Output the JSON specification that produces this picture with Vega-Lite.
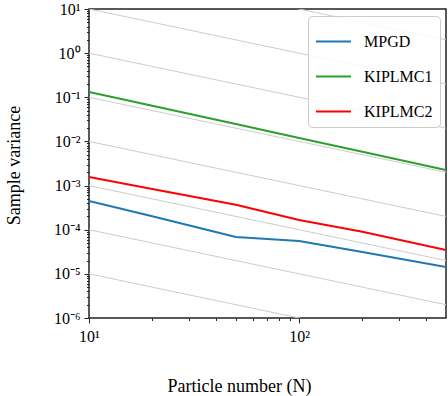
{
  "$schema": "https://vega.github.io/schema/vega-lite/v6.json",
  "width": 357,
  "height": 309,
  "autosize": {"type": "none"},
  "padding": {"left": 89, "top": 9, "right": 2, "bottom": 78},
  "background": "white",
  "config": {
    "font": "Liberation Serif",
    "view": {"stroke": "#222222", "strokeWidth": 1.5},
    "legend": {"labelFont": "Liberation Serif", "labelFontSize": 16, "labelColor": "#000000"},
    "axis": {
      "grid": false,
      "domain": false,
      "labelFont": "Liberation Serif",
      "labelFontSize": 16,
      "labelColor": "#000000",
      "tickColor": "#222222",
      "tickWidth": 1,
      "labelOverlap": false,
      "labelFlush": false,
      "titleFont": "Liberation Serif",
      "titleFontSize": 18,
      "titleFontWeight": "normal",
      "titleColor": "#000000"
    }
  },
  "datasets": {
    "ref": [
      {"C": 0.0001, "N": 10, "v": 0.00001}, {"C": 0.0001, "N": 500, "v": 0.0000002},
      {"C": 0.001, "N": 10, "v": 0.0001}, {"C": 0.001, "N": 500, "v": 0.000002},
      {"C": 0.01, "N": 10, "v": 0.001}, {"C": 0.01, "N": 500, "v": 0.00002},
      {"C": 0.1, "N": 10, "v": 0.01}, {"C": 0.1, "N": 500, "v": 0.0002},
      {"C": 1, "N": 10, "v": 0.1}, {"C": 1, "N": 500, "v": 0.002},
      {"C": 10, "N": 10, "v": 1}, {"C": 10, "N": 500, "v": 0.02},
      {"C": 100, "N": 10, "v": 10}, {"C": 100, "N": 500, "v": 0.2},
      {"C": 1000, "N": 10, "v": 100}, {"C": 1000, "N": 500, "v": 2}
    ],
    "series": [
      {"series": "MPGD", "N": 10, "v": 0.000447},
      {"series": "MPGD", "N": 20, "v": 0.000201},
      {"series": "MPGD", "N": 50, "v": 0.0000684},
      {"series": "MPGD", "N": 100, "v": 0.0000555},
      {"series": "MPGD", "N": 200, "v": 0.0000313},
      {"series": "MPGD", "N": 500, "v": 0.0000143},
      {"series": "KIPLMC1", "N": 10, "v": 0.132},
      {"series": "KIPLMC1", "N": 20, "v": 0.064},
      {"series": "KIPLMC1", "N": 50, "v": 0.0247},
      {"series": "KIPLMC1", "N": 100, "v": 0.012},
      {"series": "KIPLMC1", "N": 200, "v": 0.00585},
      {"series": "KIPLMC1", "N": 500, "v": 0.00225},
      {"series": "KIPLMC2", "N": 10, "v": 0.00156},
      {"series": "KIPLMC2", "N": 20, "v": 0.000836},
      {"series": "KIPLMC2", "N": 50, "v": 0.000369},
      {"series": "KIPLMC2", "N": 100, "v": 0.000166},
      {"series": "KIPLMC2", "N": 200, "v": 0.00009},
      {"series": "KIPLMC2", "N": 500, "v": 0.0000347}
    ]
  },
  "layer": [
    {
      "data": {"name": "ref"},
      "mark": {"type": "line", "clip": true, "color": "#cccccc", "strokeWidth": 1},
      "encoding": {
        "x": {
          "field": "N", "type": "quantitative",
          "scale": {"type": "log", "domain": [10, 500], "nice": false},
          "axis": {
            "title": "Particle number (N)",
            "values": [10, 20, 30, 40, 50, 60, 70, 80, 90, 100, 200, 300, 400],
            "labelExpr": "datum.value == 10 ? '10¹' : datum.value == 100 ? '10²' : ''",
            "tickSize": {"condition": {"test": "datum.value == 10 || datum.value == 100", "value": 5}, "value": 2.5},
            "labelPadding": 5,
            "titleAlign": "center",
            "titleBaseline": "alphabetic",
            "titleX": 150,
            "titleY": 73
          }
        },
        "y": {
          "field": "v", "type": "quantitative",
          "scale": {"type": "log", "domain": [0.000001, 10], "nice": false},
          "axis": {
            "title": "Sample variance",
            "values": [0.000001, 0.000002, 0.000003, 0.000004, 0.000005, 0.000006, 0.000007, 0.000008, 0.000009,
                       0.00001, 0.00002, 0.00003, 0.00004, 0.00005, 0.00006, 0.00007, 0.00008, 0.00009,
                       0.0001, 0.0002, 0.0003, 0.0004, 0.0005, 0.0006, 0.0007, 0.0008, 0.0009,
                       0.001, 0.002, 0.003, 0.004, 0.005, 0.006, 0.007, 0.008, 0.009,
                       0.01, 0.02, 0.03, 0.04, 0.05, 0.06, 0.07, 0.08, 0.09,
                       0.1, 0.2, 0.3, 0.4, 0.5, 0.6, 0.7, 0.8, 0.9,
                       1, 2, 3, 4, 5, 6, 7, 8, 9, 10],
            "labelExpr": "abs(log(datum.value)/LN10 - round(log(datum.value)/LN10)) > 0.001 ? '' : (round(log(datum.value)/LN10) == 1 ? '10¹' : round(log(datum.value)/LN10) == 0 ? '10⁰' : round(log(datum.value)/LN10) == -1 ? '10⁻¹' : round(log(datum.value)/LN10) == -2 ? '10⁻²' : round(log(datum.value)/LN10) == -3 ? '10⁻³' : round(log(datum.value)/LN10) == -4 ? '10⁻⁴' : round(log(datum.value)/LN10) == -5 ? '10⁻⁵' : round(log(datum.value)/LN10) == -6 ? '10⁻⁶' : '')",
            "tickSize": {"condition": {"test": "abs(log(datum.value)/LN10 - round(log(datum.value)/LN10)) < 0.001", "value": 5}, "value": 2.5},
            "labelPadding": 4,
            "titleAlign": "center",
            "titleBaseline": "bottom",
            "titleAngle": -90,
            "titleX": -66,
            "titleY": 156
          }
        },
        "detail": {"field": "C", "type": "nominal"}
      }
    },
    {
      "data": {"name": "series"},
      "mark": {"type": "line", "clip": true, "strokeWidth": 2},
      "encoding": {
        "x": {"field": "N", "type": "quantitative"},
        "y": {"field": "v", "type": "quantitative"},
        "color": {
          "field": "series", "type": "nominal",
          "scale": {"domain": ["MPGD", "KIPLMC1", "KIPLMC2"], "range": ["#1f77b4", "#2ca02c", "#ff0000"]},
          "legend": {
            "title": null,
            "orient": "none",
            "legendX": 219,
            "legendY": 7,
            "symbolType": "stroke",
            "symbolSize": 1225,
            "symbolStrokeWidth": 2,
            "labelFont": "Liberation Serif, serif",
            "labelFontSize": 16,
            "labelColor": "#000000",
            "labelOffset": 12,
            "padding": 7,
            "rowPadding": 8,
            "strokeColor": "#cccccc",
            "cornerRadius": 4,
            "fillColor": "rgba(255,255,255,0.85)",
            "encode": {"labels": {"update": {"font": {"value": "Liberation Serif"}, "fontSize": {"value": 16}}}}
          }
        }
      }
    }
  ]
}
